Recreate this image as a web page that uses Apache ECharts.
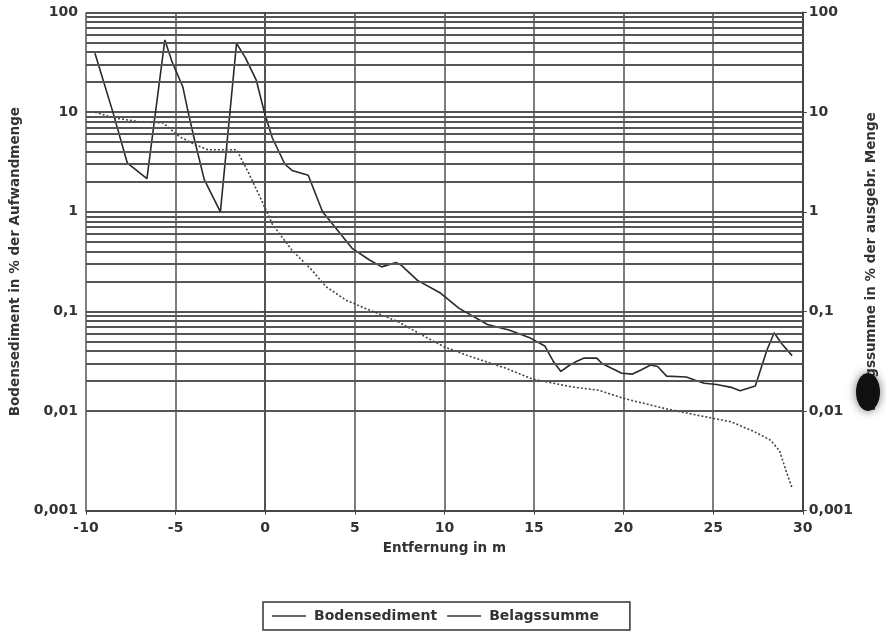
<!DOCTYPE html>
<html>
<head>
<meta charset="utf-8">
<script src="https://cdn.jsdelivr.net/npm/echarts@6/dist/echarts.min.js"></script>
<style>
html,body{margin:0;padding:0;background:#fff;}
#chart{width:886px;height:638px;}
</style>
</head>
<body>
<div id="chart"></div>
<script>
// Distance (m) and values (%)
const bodenX = [-9.5, -8.5, -7.7, -6.6, -5.6, -5.2, -4.6, -4.3, -4.0, -3.4, -2.5, -1.6, -1.1, -0.5, -0.05, 0.4, 1.1, 1.5, 2.4, 3.2, 4.85, 5.8, 6.5, 7.3, 7.6, 8.5, 9.8, 10.8, 12.4, 13.6, 14.8, 15.6, 16.1, 16.5, 17.0, 17.3, 17.8, 18.5, 18.8, 19.3, 19.9, 20.5, 21.0, 21.5, 21.9, 22.4, 23.5, 24.0, 24.5, 25.2, 26.0, 26.5, 27.35, 27.7, 28.0, 28.4, 28.8, 29.4];
const bodenY = [39, 10, 3.1, 2.15, 53, 32, 18, 10, 5.8, 2.1, 1.0, 49, 35, 21, 10, 5.5, 3.0, 2.6, 2.33, 1.0, 0.43, 0.33, 0.28, 0.31, 0.29, 0.205, 0.152, 0.108, 0.074, 0.065, 0.054, 0.045, 0.031, 0.025, 0.029, 0.031, 0.034, 0.034, 0.030, 0.027, 0.024, 0.0235, 0.026, 0.029, 0.028, 0.0224, 0.022, 0.0204, 0.019, 0.0185, 0.0173, 0.016, 0.0178, 0.028, 0.041, 0.061, 0.048, 0.036];

const belagX = [-9.5, -8.5, -7.0, -5.7, -4.8, -3.9, -3.2, -2.5, -1.6, -0.9, -0.2, 0.4, 1.5, 2.6, 3.4, 4.5, 5.6, 7.4, 8.9, 10.0, 11.5, 13.4, 14.9, 17.1, 18.6, 20.0, 22.3, 24.1, 26.0, 27.3, 28.2, 28.7, 29.1, 29.4];
const belagY = [10, 8.8, 8.0, 7.8, 5.7, 4.7, 4.2, 4.2, 4.2, 2.4, 1.3, 0.75, 0.41, 0.26, 0.177, 0.13, 0.107, 0.079, 0.056, 0.044, 0.035, 0.027, 0.021, 0.0175, 0.0162, 0.0134, 0.0106, 0.0091, 0.0078, 0.0062, 0.0051, 0.0040, 0.0024, 0.0017];

const seriesNames = ['Bodensediment', 'Belagssumme'];
const yTickLabels = ['0,001', '0,01', '0,1', '1', '10', '100'];
const decades = [0.001, 0.01, 0.1, 1, 10];
const minorFactors = [2, 3, 4, 5, 6, 7, 8, 9];

const minorGrid = [];
decades.forEach(d => minorFactors.forEach(f => minorGrid.push(+(d * f).toPrecision(3))));

const FONT = 'DejaVu Sans';
const TXT = '#333';

function zip(xs, ys) { return xs.map((x, i) => [x, ys[i]]); }
function yLabel(v) {
  const e = Math.round(Math.log10(v));
  return yTickLabels[e + 3] || '';
}

const chart = echarts.init(document.getElementById('chart'));
chart.setOption({
  backgroundColor: '#fff',
  animation: false,
  grid: { left: 86, right: 81, top: 12.5, bottom: 127.3 },
  legend: {
    data: seriesNames,
    left: 263, top: 602,
    orient: 'horizontal',
    icon: 'rect',
    borderColor: '#333', borderWidth: 1.5,
    padding: [7, 31, 7, 9],
    itemWidth: 34, itemHeight: 1.6, itemGap: 10,
    itemStyle: { color: '#333' },
    textStyle: { fontFamily: FONT, fontWeight: 'bold', fontSize: 14, color: TXT, padding: [0, 0, 0, 3] }
  },
  xAxis: {
    type: 'value', min: -10, max: 30, interval: 5,
    name: 'Entfernung in m', nameLocation: 'middle', nameGap: 31,
    nameTextStyle: { fontFamily: FONT, fontWeight: 'bold', fontSize: 13.5, color: TXT },
    axisLine: { show: true, onZero: false, lineStyle: { color: '#444', width: 1.5 } },
    axisTick: { show: true, length: 4, lineStyle: { color: '#444' } },
    axisLabel: { fontFamily: FONT, fontWeight: 'bold', fontSize: 14, color: TXT, margin: 11 },
    splitLine: { show: true, lineStyle: { color: '#555', width: 1.5 } }
  },
  yAxis: [
    {
      type: 'log', logBase: 10, min: 0.001, max: 100, position: 'left',
      name: 'Bodensediment in % der Aufwandmenge', nameLocation: 'middle', nameRotate: 90, nameGap: 62,
      nameTextStyle: { fontFamily: FONT, fontWeight: 'bold', fontSize: 13.5, color: TXT },
      axisLine: { show: true, lineStyle: { color: '#444', width: 1.5 } },
      axisTick: { show: true, length: 5, lineStyle: { color: '#444' } },
      axisLabel: { fontFamily: FONT, fontWeight: 'bold', fontSize: 14, color: TXT, margin: 8, formatter: yLabel },
      splitLine: { show: true, lineStyle: { color: '#555', width: 2 } },
      minorTick: { show: false }
    },
    {
      type: 'log', logBase: 10, min: 0.001, max: 100, position: 'right',
      name: 'Belagssumme in % der ausgebr. Menge', nameLocation: 'middle', nameRotate: 90, nameGap: 57,
      nameTextStyle: { fontFamily: FONT, fontWeight: 'bold', fontSize: 13.5, color: TXT },
      axisLine: { show: true, lineStyle: { color: '#444', width: 2 } },
      axisTick: { show: true, length: 4, lineStyle: { color: '#444' } },
      axisLabel: { fontFamily: FONT, fontWeight: 'bold', fontSize: 14, color: TXT, margin: 6, formatter: yLabel },
      splitLine: { show: false }
    }
  ],
  graphic: [
    {
      type: 'ellipse', z: 100,
      shape: { cx: 868, cy: 392, rx: 12, ry: 19 },
      style: { fill: '#111', shadowBlur: 10, shadowColor: 'rgba(0,0,0,0.55)' }
    }
  ],
  series: [
    {
      name: 'gridMinor', type: 'line', data: [], yAxisIndex: 0, z: 1, silent: true,
      markLine: {
        silent: true, symbol: ['none', 'none'], label: { show: false },
        lineStyle: { color: '#555', width: 2, type: 'solid' },
        emphasis: { disabled: true },
        data: minorGrid.map(v => ({ yAxis: v }))
      }
    },
    {
      name: seriesNames[0], type: 'line', yAxisIndex: 0, z: 3,
      data: zip(bodenX, bodenY), showSymbol: false, symbol: 'none',
      lineStyle: { color: '#2a2a2a', width: 1.6 }, itemStyle: { color: '#2a2a2a' }
    },
    {
      name: seriesNames[1], type: 'line', yAxisIndex: 1, z: 3,
      data: zip(belagX, belagY), showSymbol: false, symbol: 'none',
      lineStyle: { color: '#444', width: 1.6, type: [2, 2] }, itemStyle: { color: '#333' }
    }
  ]
});
</script>
</body>
</html>
